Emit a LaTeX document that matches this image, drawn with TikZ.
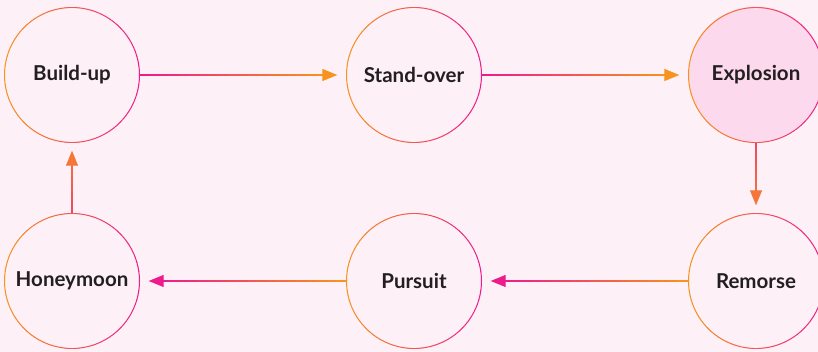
\documentclass[tikz,border=0pt]{standalone}
\usepackage{fontspec}
\setmainfont{Lato}
\usepackage{xcolor}
\usetikzlibrary{arrows.meta,calc}

\definecolor{bgc}{HTML}{FDF0F6}
\definecolor{orangec}{HTML}{F7941D}
\definecolor{pinkc}{HTML}{EC1C8C}
\definecolor{fillc}{HTML}{FCD9EC}
\definecolor{textc}{HTML}{231F20}

% ring with orange (left) to pink (right) stroke
\newcommand{\gradring}[1]{%
  \foreach \a in {0,4,...,356}{%
    \pgfmathsetmacro{\p}{max(0,min(100,50+50*cos(\a+2)))}
    \draw[ring, draw=pinkc!\p!orangec] ([shift={(\a:67.5pt)}]#1.center)
      arc[start angle=\a, end angle=\a+4, radius=67.5pt];
  }%
}
% connector with colour running from #3 to #4 percent pink
\newcommand{\gradlink}[4]{%
  \foreach \i in {0,...,17}{%
    \pgfmathsetmacro{\p}{#3+(#4-#3)*\i/18}
    \draw[link, draw=pinkc!\p!orangec] ($(#1)!\i/20!(#2)$) -- ($(#1)!{(\i+1)/20}!(#2)$);
  }%
  \draw[link, draw=pinkc!#4!orangec, -{Triangle[length=15pt,width=12pt,fill=pinkc!#4!orangec]}]
    ($(#1)!0.9!(#2)$) -- (#2);
}

\begin{document}
\begin{tikzpicture}[x=1pt, y=1pt,
    state/.style={circle, minimum size=135pt, inner sep=0pt, text=textc,
      font=\fontsize{20.5}{24}\selectfont\bfseries},
    ring/.style={line width=1pt, line cap=round},
    link/.style={line width=1.1pt}]
    \fill[bgc] (0,0) rectangle (818,352);
    \useasboundingbox (0,0) rectangle (818,352);

    \fill[fillc] (756,278) circle[radius=67.5pt];

    \node[state] (build)   at (72,277)  {Build-up};
    \node[state] (stand)   at (414,277) {Stand-over};
    \node[state] (expl)    at (756,277) {Explosion};
    \node[state] (honey)   at (72,71)   {Honeymoon};
    \node[state] (pursuit) at (414,71)  {Pursuit};
    \node[state] (remorse) at (756,71)  {Remorse};

    \gradring{build}
    \gradring{stand}
    \gradring{expl}
    \gradring{honey}
    \gradring{pursuit}
    \gradring{remorse}

    \coordinate (t1) at ([xshift=-9pt]stand.west);
    \coordinate (t2) at ([xshift=-9pt]expl.west);
    \coordinate (t3) at ([yshift=8pt]remorse.north);
    \coordinate (t4) at ([xshift=9pt]pursuit.east);
    \coordinate (t5) at ([xshift=9pt]honey.east);
    \coordinate (t6) at ([yshift=-8pt]build.south);

    \gradlink{build.east}{t1}{100}{0}
    \gradlink{stand.east}{t2}{100}{0}
    \gradlink{expl.south}{t3}{65}{25}
    \gradlink{remorse.west}{t4}{0}{100}
    \gradlink{pursuit.west}{t5}{0}{100}
    \gradlink{honey.north}{t6}{65}{25}
\end{tikzpicture}
\end{document}
